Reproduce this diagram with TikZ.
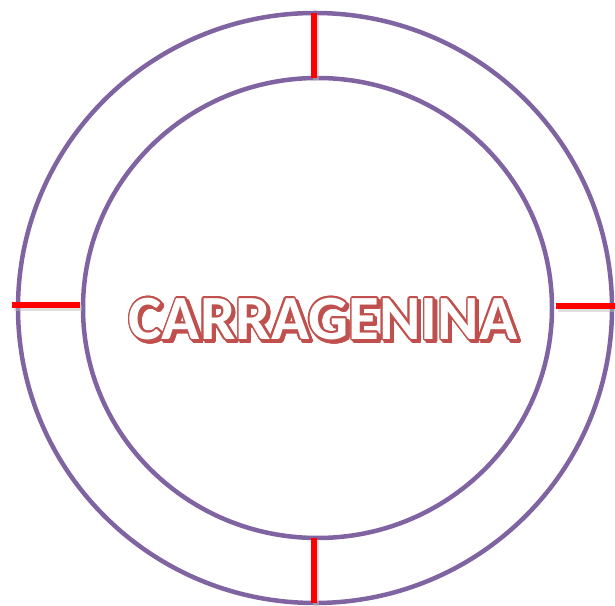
\documentclass[tikz,border=0pt]{standalone}
\usepackage{fontspec}
\usetikzlibrary{shapes.geometric,calc}
\newfontfamily\titlefont{Carlito}
\definecolor{ringpurple}{HTML}{8064A2}
\definecolor{tickred}{HTML}{FF0000}
\definecolor{textred}{HTML}{C0504D}
\tikzset{
  ring/.style={draw=ringpurple, line width=4.5pt},
  tick/.style={draw=tickred, line width=6pt},
  tickshadow/.style={draw=black!25, line width=6pt, opacity=0.5},
  title/.style={font=\titlefont\bfseries\fontsize{63}{63}\selectfont, inner sep=0pt}
}
\begin{document}
\begin{tikzpicture}[x=1pt,y=1pt]
\useasboundingbox (0,0) rectangle (615,605);
% rings
\node[ring, ellipse, minimum width=594pt, minimum height=590pt, inner sep=0pt] (outer) at (315,297) {};
\node[ring, ellipse, minimum width=469pt, minimum height=460pt, inner sep=0pt] (inner) at (317.5,297) {};
% tick endpoints
\coordinate (t1) at (314,592);
\coordinate (t2) at (314,527);
\coordinate (l1) at (12,300);
\coordinate (l2) at (80,300);
\coordinate (r1) at (556,299);
\coordinate (r2) at (615,299);
\coordinate (b1) at (314,67);
\coordinate (b2) at (314,2);
% shadows
\draw[tickshadow] ([shift={(2,-3)}]t1) -- ([shift={(2,-3)}]t2);
\draw[tickshadow] ([shift={(2,-3)}]l1) -- ([shift={(2,-3)}]l2);
\draw[tickshadow] ([shift={(2,-3)}]r1) -- ([shift={(2,-3)}]r2);
\draw[tickshadow] ([shift={(2,-3)}]b1) -- ([shift={(2,-3)}]b2);
% ticks
\draw[tick] (t1) -- (t2);
\draw[tick] (l1) -- (l2);
\draw[tick] (r1) -- (r2);
\draw[tick] (b1) -- (b2);
% title: shadow + outline + white fill
\foreach \a in {0,22.5,...,337.5}{
  \node[title, text=textred] at ($(325.5,283.5)+(\a:1.6)$) {CARRAGENINA};
}
\foreach \a in {0,22.5,...,337.5}{
  \node[title, text=textred] at ($(323,286)+(\a:1.6)$) {CARRAGENINA};
}
\node[title, text=white] (label) at (323,286) {CARRAGENINA};
\end{tikzpicture}
\end{document}
